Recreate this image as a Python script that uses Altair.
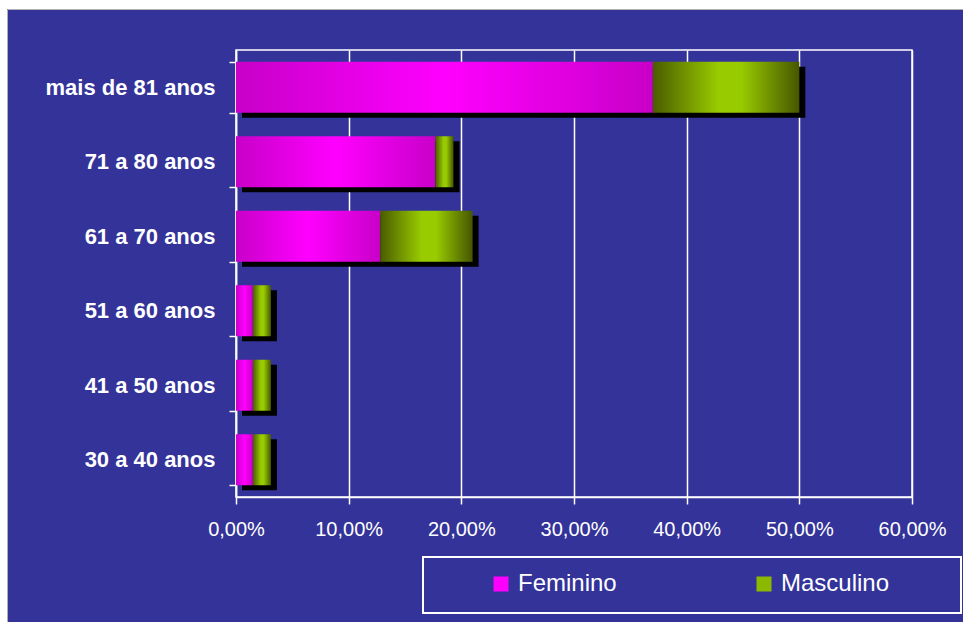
import altair as alt
import pandas as pd

# Age groups, top to bottom
faixas = ["mais de 81 anos", "71 a 80 anos", "61 a 70 anos",
          "51 a 60 anos", "41 a 50 anos", "30 a 40 anos"]
# Share of each group (fraction of total), by sex
feminino = [0.370, 0.177, 0.128, 0.015, 0.015, 0.015]
masculino = [0.130, 0.016, 0.082, 0.016, 0.016, 0.016]
series = ["Feminino", "Masculino"]
ticks = [0.0, 0.1, 0.2, 0.3, 0.4, 0.5, 0.6]

df = pd.DataFrame({"faixa": faixas, "fem": feminino, "masc": masculino})
df["total"] = df["fem"] + df["masc"]

W, H = 676, 447
PAD = {"left": 236, "top": 50, "right": 51, "bottom": 125}
BLUE = "#333399"
FONT = "Liberation Sans"

fem_grad = alt.LinearGradient(
    gradient="linear", x1=0, x2=1, y1=0, y2=0,
    stops=[alt.GradientStop(color="#c800c8", offset=0),
           alt.GradientStop(color="#ff00ff", offset=0.5),
           alt.GradientStop(color="#c800c8", offset=1)])
masc_grad = alt.LinearGradient(
    gradient="linear", x1=0, x2=1, y1=0, y2=0,
    stops=[alt.GradientStop(color="#4a5c00", offset=0),
           alt.GradientStop(color="#99cc00", offset=0.45),
           alt.GradientStop(color="#99cc00", offset=0.6),
           alt.GradientStop(color="#465600", offset=1)])

y_enc = alt.Y("faixa:N", sort=faixas, title=None,
              scale=alt.Scale(paddingInner=0.315, paddingOuter=0.157),
              axis=alt.Axis(labelFontWeight="bold", labelFontSize=22, labelFont=FONT,
                            labelColor="white", domainColor="white", domainWidth=1.5,
                            tickColor="white", tickWidth=1.5, tickSize=7,
                            tickBand="extent", labelPadding=14, grid=False))
x_scale = alt.Scale(domain=[0, 0.6], nice=False)
x_axis = alt.Axis(values=ticks, labelExpr="replace(format(datum.value, '.2%'), '.', ',')",
                  labelFontSize=20, labelFont=FONT, labelColor="white", labelFlush=False,
                  domainColor="white", domainWidth=1.5, tickColor="white", tickWidth=1.5,
                  tickSize=7, labelPadding=15, grid=True, gridColor="white",
                  gridWidth=1.5, gridOpacity=1)

# White margin strips at the left and top edges, with a thin grey edge line
margin = alt.Chart(alt.Data(values=[{"x0": -PAD["left"], "x1": 7 - PAD["left"],
                                     "y0": -PAD["top"], "y1": H + PAD["bottom"]},
                                    {"x0": -PAD["left"], "x1": W + PAD["right"],
                                     "y0": -PAD["top"], "y1": 9 - PAD["top"]}])).mark_rect(
    fill="white").encode(
    x=alt.X("x0:Q", scale=None), x2="x1:Q", y=alt.Y("y0:Q", scale=None), y2="y1:Q")
edge = alt.Chart(alt.Data(values=[{}])).mark_rect(
    fill=None, stroke="#b0b0b0", strokeWidth=1).encode(
    x=alt.value(7.5 - PAD["left"]), x2=alt.value(W + PAD["right"] + 5),
    y=alt.value(9.5 - PAD["top"]), y2=alt.value(H + PAD["bottom"] + 5))

base = alt.Chart(df)

shadow = base.mark_bar(color="black", xOffset=6, yOffset=5).encode(
    x=alt.X("total:Q", scale=x_scale, axis=x_axis, title=None), y=y_enc)

fem_bar = base.mark_bar(color=fem_grad).encode(
    x=alt.X("fem:Q", scale=x_scale, title=None), y=y_enc)

masc_bar = base.mark_bar(color=masc_grad).encode(
    x=alt.X("fem:Q", scale=x_scale, title=None), x2="total:Q", y=y_enc)

# Zero-size marks that only carry the legend
legend_layer = alt.Chart(pd.DataFrame({"sexo": series})).mark_rect().encode(
    x=alt.value(0), x2=alt.value(0), y=alt.value(0), y2=alt.value(0),
    color=alt.Color("sexo:N", scale=alt.Scale(domain=series, range=["#ff00ff", "#8cb800"]),
                    legend=alt.Legend(title=None, orient="none", direction="horizontal",
                                      legendX=253, legendY=522, symbolType="square",
                                      symbolSize=225, symbolStrokeWidth=0,
                                      labelFontSize=24, labelFont=FONT, labelColor="white",
                                      labelOffset=5, columnPadding=135, padding=0)))

legend_box = alt.Chart(alt.Data(values=[{}])).mark_rect(
    fill=None, stroke="white", strokeWidth=2).encode(
    x=alt.value(423 - PAD["left"]), x2=alt.value(961 - PAD["left"]),
    y=alt.value(557 - PAD["top"]), y2=alt.value(613 - PAD["top"]))

chart = alt.layer(shadow, fem_bar, masc_bar, legend_layer, legend_box, margin, edge).properties(
    width=W, height=H, padding=PAD, background=BLUE,
    autosize=alt.AutoSizeParams(type="none"),
).configure_view(stroke="white", strokeWidth=1.5)

chart.save("out.html", embed_options={"renderer": "svg", "actions": False})
